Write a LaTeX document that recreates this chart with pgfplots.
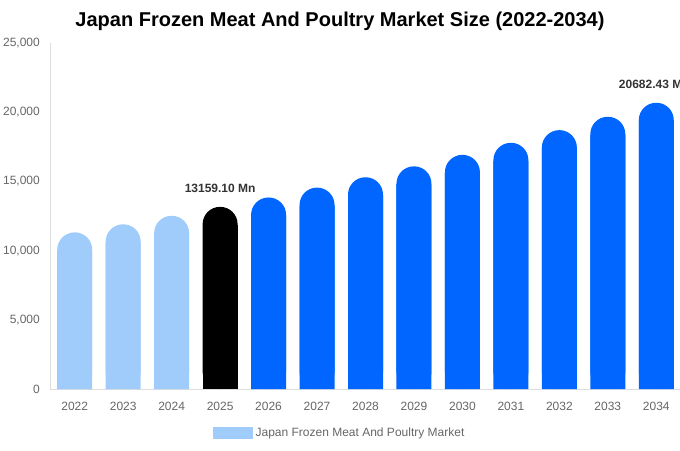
\documentclass[border=0pt]{standalone}
\usepackage{fontspec}
\setmainfont{Liberation Sans}
\usepackage{pgfplots}
\usepackage{pgfplotstable}
\pgfplotsset{compat=1.18}

\definecolor{pastblue}{RGB}{160,204,251}
\definecolor{futblue}{RGB}{0,102,255}
\definecolor{ticktext}{RGB}{102,102,102}
\definecolor{labeltext}{RGB}{51,51,51}
\definecolor{axisgray}{RGB}{221,221,221}

% market size, USD Mn
\pgfplotstableread{
x y
0 11318
1 11901
2 12514
}\pastdata
\pgfplotstableread{
x y
3 13159.10
}\basedata
\pgfplotstableread{
x y
4 13837
5 14550
6 15299
7 16087
8 16916
9 17787
10 18703
11 19669
12 20682.43
}\futdata

\pgfplotsset{
    pill/.style={ybar, bar width=26.25pt, bar shift=0pt, draw=none, fill=#1, rounded corners=13pt},
    block/.style={ybar, bar width=26.25pt, bar shift=0pt, draw=none, fill=#1, forget plot},
}

\begin{document}
\begin{tikzpicture}
    \begin{axis}
    [
        scale only axis,
        width=472.5pt,
        height=259.5pt,
        xmin=-0.5, xmax=12.5,
        ymin=0, ymax=25000,
        clip=false,
        axis x line=bottom,
        axis y line=left,
        axis line style={draw=axisgray, -},
        major tick length=0pt,
        xtick={0,...,12},
        xticklabels={2022,2023,2024,2025,2026,2027,2028,2029,2030,2031,2032,2033,2034},
        ytick={0,5000,...,25000},
        scaled y ticks=false,
        /pgf/number format/1000 sep={,},
        /pgf/number format/assume math mode=true,
        tick label style={font=\fontsize{9pt}{11pt}\selectfont, text=ticktext},
        xticklabel style={yshift=-6pt},
        yticklabel style={xshift=-4.5pt},
        legend style={at={(0.4595,-0.127)}, anchor=center, draw=none, fill=none,
            font=\fontsize{9pt}{11pt}\selectfont, text=ticktext},
    ]
    % rounded bars
    \addplot[pill=pastblue, legend image code/.code={\fill[pastblue, sharp corners] (0pt,-4.5pt) rectangle (30pt,4.5pt);}] table[x=x, y=y] {\pastdata};
    \addlegendentry{Japan Frozen Meat And Poultry Market}
    \addplot[pill=black, forget plot] table[x=x, y=y] {\basedata};
    \addplot[pill=futblue, forget plot] table[x=x, y=y] {\futdata};
    % square off the bottom corners
    \addplot[block=pastblue] table[x=x, y expr=\thisrow{y}-1300] {\pastdata};
    \addplot[block=black] table[x=x, y expr=\thisrow{y}-1300] {\basedata};
    \addplot[block=futblue] table[x=x, y expr=\thisrow{y}-1300] {\futdata};

    \node[font=\bfseries\fontsize{9pt}{11pt}\selectfont, text=labeltext, anchor=south, inner sep=0pt]
        at (axis cs:3,13159.10) [yshift=10.5pt] {13159.10 Mn};
    \node[font=\bfseries\fontsize{9pt}{11pt}\selectfont, text=labeltext, anchor=south, inner sep=0pt]
        at (axis cs:12,20682.43) [yshift=10.5pt, xshift=-1.5pt] {20682.43 Mn};
    \node[font=\bfseries\fontsize{15pt}{18pt}\selectfont, text=black]
        at (rel axis cs:0.4595,1) [yshift=16.5pt] {Japan Frozen Meat And Poultry Market Size (2022-2034)};

    \coordinate (o) at (rel axis cs:0,0);
    \end{axis}
    \pgfresetboundingbox
    \path[use as bounding box] ([shift={(-37.875pt,-45.75pt)}]o) rectangle ++(510pt,337.5pt);
\end{tikzpicture}
\end{document}
